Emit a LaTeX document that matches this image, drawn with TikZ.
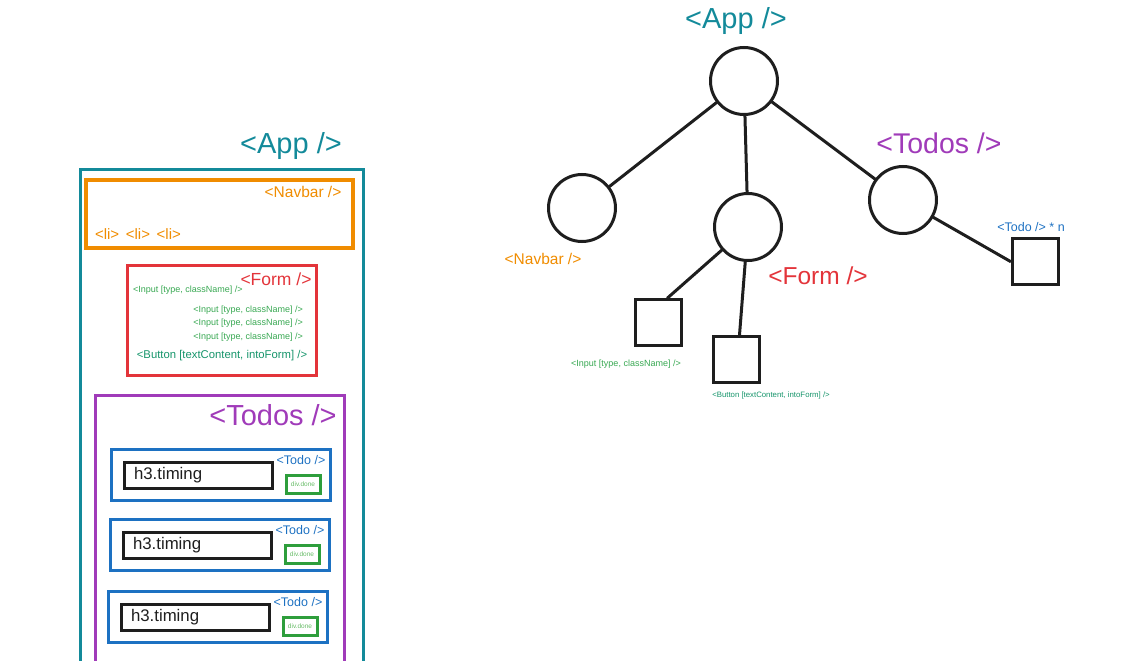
\documentclass[tikz,border=0pt]{standalone}
\usepackage{fontspec}
\setmainfont{Liberation Sans}
\usetikzlibrary{positioning}

\definecolor{appteal}{HTML}{138A9A}
\definecolor{navorange}{HTML}{F08C00}
\definecolor{formred}{HTML}{E3343A}
\definecolor{inputgreen}{HTML}{38A852}
\definecolor{buttongreen}{HTML}{15946A}
\definecolor{todospurple}{HTML}{A03BB9}
\definecolor{todoblue}{HTML}{1D71C2}
\definecolor{donegreen}{HTML}{2E9E3C}
\definecolor{donetext}{HTML}{66BB66}
\definecolor{ink}{HTML}{1E1E1E}

\newcommand{\fsz}[1]{\fontsize{#1}{#1}\selectfont}

\tikzset{
  frame/.style={draw,rectangle,line width=3pt,inner sep=0pt,outer sep=0pt,anchor=north west},
  txt/.style={inner sep=0pt,outer sep=0pt},
  comp/.style={draw=ink,circle,line width=3pt,minimum size=67pt,inner sep=0pt},
  leaf/.style={draw=ink,rectangle,line width=3pt,minimum size=46pt,inner sep=0pt},
  link/.style={draw=ink,line width=3pt,line cap=round},
}

\begin{document}
\begin{tikzpicture}[x=1pt,y=-1pt]
  \useasboundingbox (0,0) rectangle (1128,661);

  % page layout
  \node[txt,text=appteal,font=\fsz{29}] (appL) at (291,146) {<App />};
  \node[frame,draw=appteal,minimum width=283pt,minimum height=540pt] (appbox) at (80,169) {};

  \node[frame,draw=navorange,line width=3.5pt,minimum width=267pt,minimum height=68pt] (navbox) at (86,180) {};
  \node[txt,text=navorange,font=\fsz{15.5}] (navL) at (303,192) {<Navbar />};
  \node[txt,text=navorange,font=\fsz{15},anchor=west] (liL) at (95,234) {<li>\ \,<li>\ \,<li>};

  \node[frame,draw=formred,minimum width=189pt,minimum height=110pt] (formbox) at (127,265) {};
  \node[txt,text=formred,font=\fsz{17.5}] (formL) at (276,279) {<Form />};
  \node[txt,text=inputgreen,font=\fsz{9},anchor=west] (inL0) at (133,290) {<Input [type, className] />};
  \foreach \i/\y in {1/310,2/323,3/337}
    \node[txt,text=inputgreen,font=\fsz{9},anchor=east] (inL\i) at (303,\y) {<Input [type, className] />};
  \node[txt,text=buttongreen,font=\fsz{11.3}] (btnL) at (222,356) {<Button [textContent, intoForm] />};

  \node[frame,draw=todospurple,minimum width=249pt,minimum height=300pt] (todosbox) at (95,395) {};
  \node[txt,text=todospurple,font=\fsz{29}] (todosL) at (273,415) {<Todos />};

  \foreach \i/\x/\y in {1/111/449,2/110/519,3/108/591} {
    \node[frame,draw=todoblue,minimum width=219pt,minimum height=51pt] (todo\i) at (\x,\y) {};
    \node[txt,text=todoblue,font=\fsz{12.5}] (todoL\i) at (\x+190,\y+11) {<Todo />};
    \node[frame,draw=ink,minimum height=26pt,text width=128pt,inner xsep=10pt,align=left,
          text=ink,font=\fsz{16.8}] (h3\i) at (\x+13,\y+13) {h3.timing};
    \node[frame,draw=donegreen,minimum width=34pt,minimum height=18pt,
          text=donetext,font=\fsz{6.5}] (done\i) at (\x+175,\y+26) {div.done};
  }

  % component tree
  \node[txt,text=appteal,font=\fsz{29}] (appR) at (736,21) {<App />};
  \node[comp] (root) at (744,81) {};
  \node[comp] (navbar) [on grid,below left=127pt and 162pt of root] {};
  \node[comp] (form) [on grid,below right=146pt and 4pt of root] {};
  \node[comp] (todos) [on grid,below right=119pt and 159pt of root] {};
  \node[leaf] (input) [on grid,below left=95.5pt and 89.5pt of form] {};
  \node[leaf] (button) [on grid,below left=132.5pt and 11.5pt of form] {};
  \node[leaf] (todo) [on grid,below right=61.5pt and 132pt of todos] {};

  \node[txt,text=navorange,font=\fsz{15.5}] (navbarR) at (543,259) {<Navbar />};
  \node[txt,text=formred,font=\fsz{24.5}] (formR) at (818,276) {<Form />};
  \node[txt,text=todospurple,font=\fsz{28.5}] (todosR) at (939,143) {<Todos />};
  \node[txt,text=inputgreen,font=\fsz{9}] (inputR) at (626,364) {<Input [type, className] />};
  \node[txt,text=buttongreen,font=\fsz{7.8}] (buttonR) at (771,395) {<Button [textContent, intoForm] />};
  \node[txt,text=todoblue,font=\fsz{12.5}] (todoR) at (1031,227) {<Todo /> * n};

  \path[link] (root) edge (navbar)
                     edge (form)
                     edge (todos)
              (form) edge ([xshift=9pt]input.north)
                     edge ([xshift=3pt]button.north)
              (todos) edge (todo.west);
\end{tikzpicture}
\end{document}
